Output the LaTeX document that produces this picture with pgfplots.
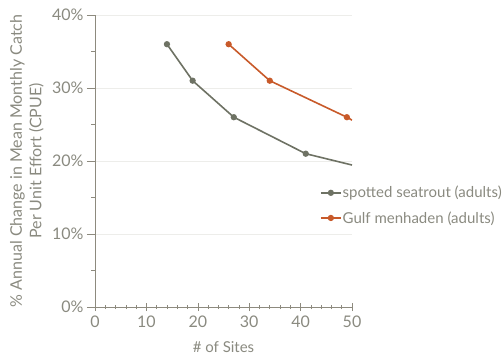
\documentclass[border=0pt]{standalone}
\usepackage{pgfplots}
\pgfplotsset{compat=1.18}
\usepackage{fontspec}
\setmainfont{Lato}
\definecolor{trout}{HTML}{6E7264}
\definecolor{menh}{HTML}{C85A2A}
\definecolor{txt}{HTML}{8A8A80}
\definecolor{axc}{HTML}{8D8A7E}
\definecolor{gridc}{HTML}{EDEDEA}
\begin{document}
\begin{tikzpicture}[x=1pt,y=1pt]
\useasboundingbox (0,0) rectangle (502,362);
\begin{axis}[
  at={(95pt,55pt)}, anchor=origin,
  scale only axis, width=257pt, height=292pt,
  xmin=0, xmax=50, ymin=0, ymax=40,
  axis x line=bottom, axis y line=left,
  axis line style={-, axc, line width=0.8pt},
  xtick={0,10,...,50}, ytick={0,10,...,40},
  minor xtick={2,4,...,48}, minor ytick={5,15,25,35},
  xtick align=center, ytick align=outside,
  major tick length=8pt, minor tick length=4pt,
  every tick/.style={axc, line width=0.6pt},
  ymajorgrids, grid style={gridc, line width=0.6pt},
  /pgf/number format/assume math mode=true,
  yticklabel={\pgfmathprintnumber{\tick}\%},
  ticklabel style={font=\fontsize{16}{18}\selectfont, text=txt},
  xticklabel style={yshift=-1pt},
  xlabel={\# of Sites},
  xlabel style={at={(axis description cs:0.5,0)}, anchor=center, yshift=-40pt, font=\fontsize{15}{17}\selectfont, text=txt},
  ylabel={\% Annual Change in Mean Monthly Catch\\Per Unit Effort (CPUE)},
  every axis y label/.style={at={(axis description cs:-0.265,0.5)}, anchor=center, rotate=90, align=center, font=\fontsize{16}{19.5}\selectfont, text=txt},
  legend style={at={(axis description cs:0.875,0.348)}, anchor=west, draw=none, fill=none,
    font=\fontsize{15}{17}\selectfont, text=txt, row sep=10pt,
    legend cell align=left, inner sep=0pt, nodes={inner sep=1pt}},
  legend image code/.code={\draw[mark indices={2}] plot coordinates {(0pt,0pt)(10pt,0pt)(20pt,0pt)};},
  clip=true,
]
\addplot[trout, line width=1.6pt, mark=*, mark size=2.3pt, mark indices={1,2,3,4}, mark options={fill=trout, draw=trout}]
  coordinates {(14,36) (19,31) (27,26) (41,21) (50,19.45)};
\addlegendentry{spotted seatrout (adults)}
\addplot[menh, line width=1.6pt, mark=*, mark size=2.3pt, mark indices={1,2,3}, mark options={fill=menh, draw=menh}]
  coordinates {(26,36) (34,31) (49,26) (50,25.6)};
\addlegendentry{Gulf menhaden (adults)}
\end{axis}
\end{tikzpicture}
\end{document}
